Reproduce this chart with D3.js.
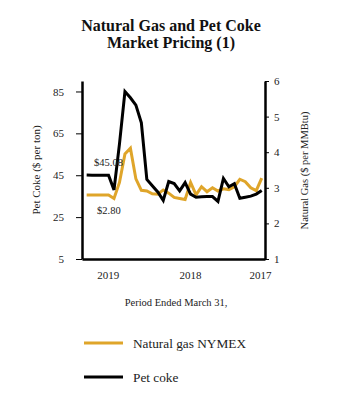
<!DOCTYPE html>
<html>
<head>
<meta charset="utf-8">
<script src="https://cdn.jsdelivr.net/npm/d3@7"></script>
<style>
  body { margin: 0; background: #fff; }
  svg, svg text { font-family: "Liberation Serif", "Times New Roman", Times, serif !important; }
  text { fill: #222; }
</style>
</head>
<body>
<div id="chart"></div>
<script>
const svgWidth = 341
const svgHeight = 413

// monthly points, newest (left) to oldest (right)
const petCoke = [45.08, 45, 45, 45, 45, 38, 60, 85, 82, 78.5, 70, 43, 40, 37, 33, 42,
  41, 37.5, 41.5, 36, 34.5, 34.7, 34.8, 34.8, 32.5, 43.5, 39.5, 41, 34, 34.5, 35, 36, 37.7]
const natGas = [2.8, 2.8, 2.8, 2.8, 2.8, 2.7, 3.15, 3.95, 4.11, 3.25, 2.93, 2.91, 2.83, 2.82, 2.94, 2.85,
  2.73, 2.7, 2.67, 3.15, 2.8, 3.03, 2.89, 3.0, 2.91, 2.97, 2.95, 3.03, 3.24, 3.17, 3.0, 2.92, 3.27]
const yearLabels = ["2019", "2018", "2017"]
const yearIndex = [3.85, 18.9, 31.7]
const cokeTicks = [5, 25, 45, 65, 85]
const gasTicks = [1, 2, 3, 4, 5, 6]
const colors = { gas: "#dfa52a", coke: "#000" }

let plot = { left: 82, right: 265, top: 81, bottom: 259 }

let svg = d3.select("#chart")
  .append("svg")
  .attr("width", svgWidth)
  .attr("height", svgHeight)

// title
svg.append("text")
  .attr("x", 171).attr("y", 31)
  .attr("text-anchor", "middle")
  .attr("font-size", "16px").attr("font-weight", "bold")
  .style("fill", "#111")
  .text("Natural Gas and Pet Coke")
svg.append("text")
  .attr("x", 171).attr("y", 48)
  .attr("text-anchor", "middle")
  .attr("font-size", "16px").attr("font-weight", "bold")
  .style("fill", "#111")
  .text("Market Pricing (1)")

let xScale = d3.scaleLinear()
  .domain([-0.85, 32.6])
  .range([plot.left, plot.right])

let yCoke = d3.scaleLinear()
  .domain([5, 90])
  .range([plot.bottom, plot.top])

let yGas = d3.scaleLinear()
  .domain([1, 6])
  .range([plot.bottom, plot.top])

function styleAxis(g) {
  g.attr("font-family", null).attr("font-size", null)
  g.select(".domain").attr("stroke-width", 2.5)
  g.selectAll(".tick line").attr("stroke-width", 1)
  g.selectAll("text").attr("font-size", "11px").attr("fill", "#222")
}

// left axis
svg.append("g")
  .attr("transform", `translate(${plot.left},0)`)
  .call(d3.axisLeft(yCoke).tickValues(cokeTicks).tickSize(6).tickPadding(12).tickSizeOuter(0))
  .call(styleAxis)

// right axis
svg.append("g")
  .attr("transform", `translate(${plot.right},0)`)
  .call(d3.axisRight(yGas).tickValues(gasTicks).tickFormat(d3.format("d"))
    .tickSize(4).tickPadding(5).tickSizeOuter(0))
  .call(styleAxis)

// bottom axis
svg.append("g")
  .attr("transform", `translate(0,${plot.bottom})`)
  .call(d3.axisBottom(xScale).tickValues(yearIndex).tickFormat((d, i) => yearLabels[i])
    .tickSize(0).tickPadding(12).tickSizeOuter(0))
  .call(styleAxis)

// axis titles
svg.append("text")
  .attr("transform", `translate(40, 170) rotate(-90)`)
  .attr("text-anchor", "middle")
  .attr("font-size", "11px")
  .text("Pet Coke ($ per ton)")
svg.append("text")
  .attr("transform", `translate(308, 170.5) rotate(-90)`)
  .attr("text-anchor", "middle")
  .attr("font-size", "10.5px")
  .text("Natural Gas ($ per MMBtu)")
svg.append("text")
  .attr("x", 176).attr("y", 306)
  .attr("text-anchor", "middle")
  .attr("font-size", "10.5px")
  .text("Period Ended March 31,")

// lines
let gasLine = d3.line()
  .x((d, i) => xScale(i))
  .y(d => yGas(d))
let cokeLine = d3.line()
  .x((d, i) => xScale(i))
  .y(d => yCoke(d))

svg.append("path")
  .datum(natGas)
  .attr("fill", "none")
  .attr("stroke", colors.gas)
  .attr("stroke-width", 3)
  .attr("d", gasLine)

svg.append("path")
  .datum(petCoke)
  .attr("fill", "none")
  .attr("stroke", colors.coke)
  .attr("stroke-width", 3)
  .attr("d", cokeLine)

// value annotations
svg.append("text")
  .attr("x", 94).attr("y", 166)
  .attr("font-size", "10.5px")
  .text("$" + petCoke[0].toFixed(2))
svg.append("text")
  .attr("x", 97).attr("y", 214)
  .attr("font-size", "10.5px")
  .text("$" + natGas[0].toFixed(2))

// legend
let legend = svg.append("g")
let legendItems = [
  { name: "Natural gas NYMEX", color: colors.gas },
  { name: "Pet coke", color: colors.coke }
]
legendItems.forEach((item, i) => {
  let y = 343 + i * 34
  legend.append("line")
    .attr("x1", 84).attr("x2", 123)
    .attr("y1", y).attr("y2", y)
    .attr("stroke", item.color)
    .attr("stroke-width", 3)
  legend.append("text")
    .attr("x", 133).attr("y", y + 5)
    .attr("font-size", "13.3px")
    .text(item.name)
})
</script>
</body>
</html>
